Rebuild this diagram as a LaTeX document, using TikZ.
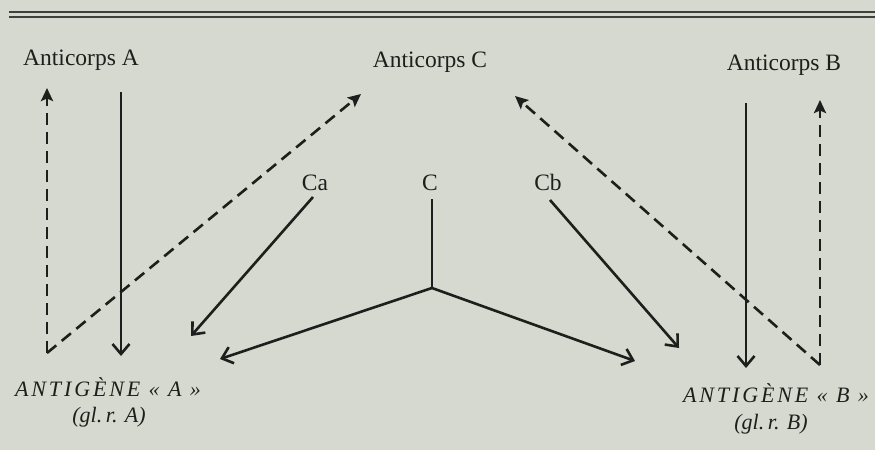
\documentclass[tikz,border=0pt]{standalone}
\usepackage{fontspec}
\setmainfont{Liberation Serif}
\usetikzlibrary{arrows.meta}
\definecolor{paper}{RGB}{214,217,207}
\definecolor{ink}{RGB}{30,30,28}
\tikzset{
  lbl/.style={text=ink, font=\fontsize{23.5}{26}\selectfont, inner sep=0pt, anchor=base},
  ant/.style={text=ink, font=\fontsize{22}{26}\selectfont\itshape\addfontfeature{LetterSpace=13}, inner sep=0pt, anchor=base},
  sub/.style={text=ink, font=\fontsize{22}{26}\selectfont\itshape, inner sep=0pt, anchor=base},
  solidarr/.style={draw=ink, line width=2.6pt, -{Straight Barb[length=10pt,width=17pt,line width=2.6pt]}},
  dasharr/.style={draw=ink, line width=2.6pt, dash pattern=on 12pt off 7pt, -{Stealth[length=13pt,width=12pt,inset=2.5pt]}},
  plain/.style={draw=ink, line width=2.6pt},
}
\begin{document}
\begin{tikzpicture}[x=1pt,y=-1pt]
\fill[paper] (0,0) rectangle (875,450);
\useasboundingbox (0,0) rectangle (875,450);
% top double rule
\draw[ink!85, line width=2pt] (9,12) -- (875,12);
\draw[ink!85, line width=2pt] (9,17) -- (875,17);

% labels
\node[lbl] (antA) at (81,65) {Anticorps A};
\node[lbl] (antC) at (430,67) {Anticorps C};
\node[lbl] (antB) at (784,70) {Anticorps B};
\node[lbl] (Ca) at (315,190) {Ca};
\node[lbl] (C) at (430,190) {C};
\node[lbl] (Cb) at (548,190) {Cb};
\node[ant] (agA) at (108,396) {ANTIGÈNE « A »};
\node[sub] (glA) at (109,422) {(gl.\,r.\,\,A)};
\node[ant] (agB) at (776,402) {ANTIGÈNE « B »};
\node[sub] (glB) at (771,429) {(gl.\,r.\,\,B)};

% coordinates
\coordinate (lvT) at (47,88);
\coordinate (lvB) at (47,353);
\coordinate (lsT) at (121,92);
\coordinate (lsB) at (121,356);
\coordinate (dAtip) at (361,94);
\coordinate (caS) at (313,197);
\coordinate (caT) at (191,336);
\coordinate (cS) at (432,199);
\coordinate (J) at (432,288);
\coordinate (cL) at (220,359);
\coordinate (cR) at (635,361);
\coordinate (cbS) at (550,200);
\coordinate (cbT) at (679,348);
\coordinate (rvB) at (820,365);
\coordinate (rvT) at (820,100);
\coordinate (rsT) at (746,103);
\coordinate (rsB) at (746,368);
\coordinate (dBtip) at (515,96);

% left side
\draw[dasharr] (lvB) -- (lvT);
\draw[solidarr] (lsT) -- (lsB);
\draw[dasharr] (lvB) -- (dAtip);
% centre
\draw[solidarr] (caS) -- (caT);
\draw[plain] (cS) -- (J);
\draw[solidarr] (J) -- (cL);
\draw[solidarr] (J) -- (cR);
\draw[solidarr] (cbS) -- (cbT);
% right side
\draw[solidarr] (rsT) -- (rsB);
\draw[dasharr] (rvB) -- (rvT);
\draw[dasharr] (rvB) -- (dBtip);
\end{tikzpicture}
\end{document}
